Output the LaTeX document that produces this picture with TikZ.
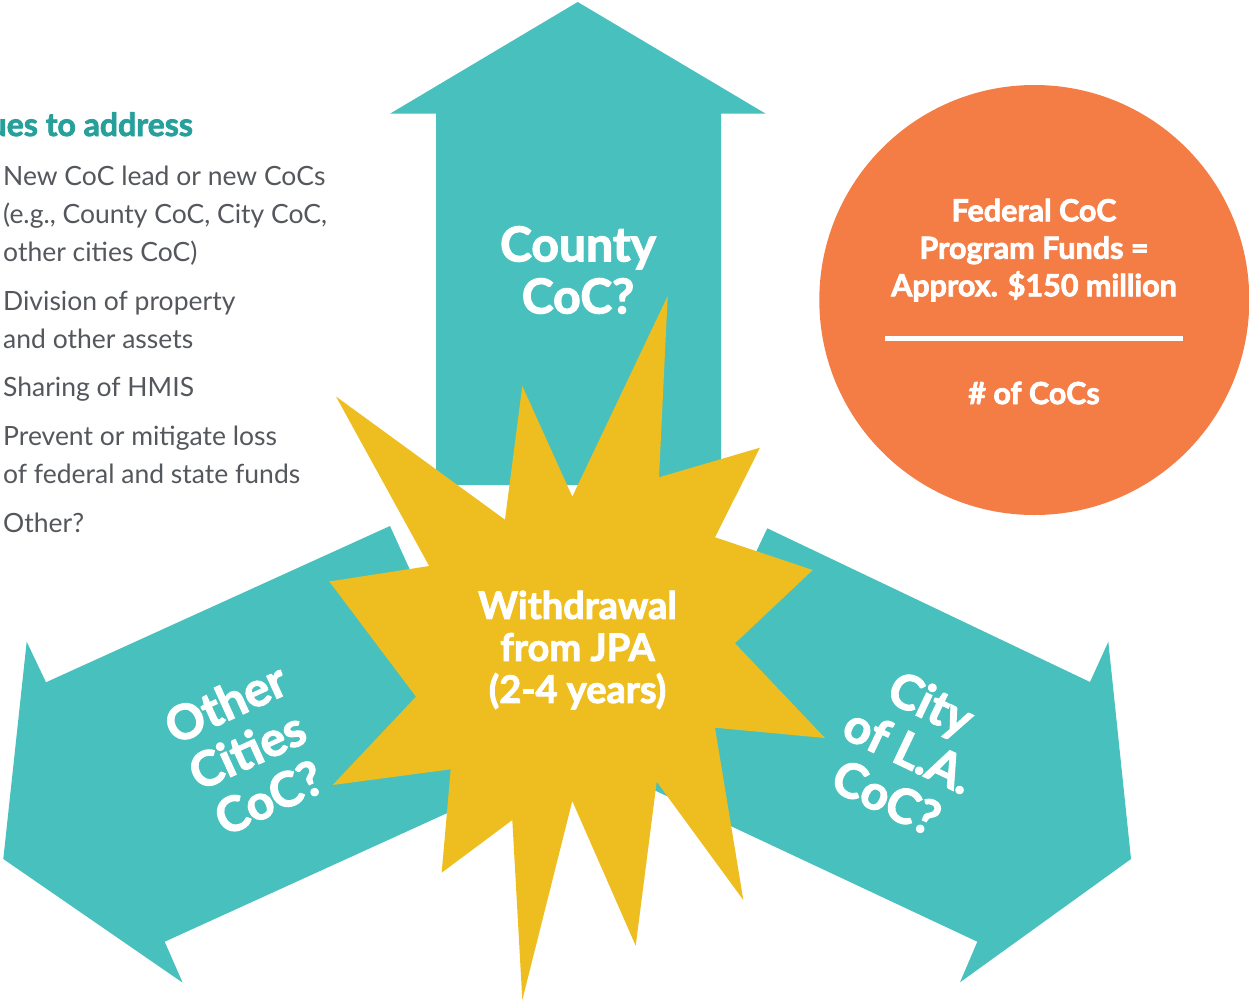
\documentclass[tikz,border=0pt]{standalone}
\usepackage{fontspec}
\setmainfont{Lato}
\newfontfamily\latoheavy{Lato}[BoldFeatures={FakeBold=2.4}]
\definecolor{arrowteal}{HTML}{48C1BE}
\definecolor{staryellow}{HTML}{EEBD1F}
\definecolor{circorange}{HTML}{F47D45}
\definecolor{headteal}{HTML}{27A09C}
\definecolor{bodygray}{HTML}{54575C}
\begin{document}
\begin{tikzpicture}[x=1pt,y=-1pt,
  arrowfill/.style={fill=arrowteal},
  bigwhite/.style={text=white, inner sep=0pt, align=center, font=\fontsize{48}{52}\selectfont\latoheavy\bfseries},
  starwhite/.style={text=white, inner sep=0pt, align=center, font=\fontsize{38}{42}\selectfont\latoheavy\bfseries},
  circwhite/.style={text=white, inner sep=0pt, align=center, font=\fontsize{30.5}{37.5}\selectfont\latoheavy\bfseries},
  bodytext/.style={text=bodygray, inner sep=0pt, align=left, anchor=base west, font=\fontsize{26.5}{38}\selectfont},
  headtext/.style={text=headteal, inner sep=0pt, anchor=base east, font=\fontsize{32}{36}\selectfont\latoheavy\bfseries}]
\useasboundingbox (0,0) rectangle (1249,1001);
\fill[white] (0,0) rectangle (1249,1001);
\clip (0,0) rectangle (1249,1001);
% arrows
\fill[arrowfill] (436,485) -- (436,113.7) -- (390,113.7) -- (577.7,2) -- (765.7,113.7) -- (721,113.7) -- (721,485) -- cycle;
\fill[arrowfill] (390,526) -- (46,682.3) -- (26.7,641.7) -- (3.3,859) -- (182.7,982.7) -- (164.7,941.7) -- (508,785.4) -- cycle;
\fill[arrowfill] (767.3,528.3) -- (1090,682) -- (1108.3,641.7) -- (1131,859) -- (960,982.3) -- (977.3,941.7) -- (644.7,785.7) -- cycle;
% star
\fill[staryellow] (667.7,296) -- (659,477.3) -- (760,447.7) -- (715,537.3) -- (812.7,570)
  -- (735,643.3) -- (825,738) -- (715,727.7) -- (743.3,900) -- (656.7,781.7)
  -- (635.7,945.7) -- (572.3,801) -- (522.3,1000) -- (512.3,820) -- (441.7,872.7)
  -- (450.7,769.3) -- (332.7,785) -- (416,696.7) -- (329.3,581.5) -- (429.2,566)
  -- (336,396.5) -- (505,519.7) -- (522.3,386) -- (572.3,496.7) -- cycle;
% circle
\fill[circorange] (1034.3,300) circle[radius=215];
\coordinate (ruleL) at (885,338.3);
\coordinate (ruleR) at (1183.3,338.3);
\draw[white, line width=5pt] (ruleL) -- (ruleR);
% texts
\node[bigwhite] (county) at (578,270) {County\\CoC?};
\node[bigwhite, rotate=24.5] (other) at (247,750) {Other\\Cities\\CoC?};
\node[bigwhite, rotate=-25.5] (city) at (909,750) {City\\of L.A.\\CoC?};
\node[starwhite] (jpa) at (577.5,650) {Withdrawal\\from JPA\\(2-4 years)};
\node[circwhite] (funds) at (1034,250) {Federal CoC\\Program Funds =\\Approx. \$150 million};
\node[circwhite] (count) at (1034,393) {\# of CoCs};
\node[headtext] (head) at (193,136) {Issues to address};
\node[bodytext] (i1) at (3,261.7) {New CoC lead or new CoCs\\(e.g., County CoC, City CoC,\\other cities CoC)};
\node[bodytext] (i2) at (3,348.3) {Division of property\\and other assets};
\node[bodytext] (i3) at (3,396) {Sharing of HMIS};
\node[bodytext] (i4) at (3,483.3) {Prevent or mitigate loss\\of federal and state funds};
\node[bodytext] (i5) at (3,532.7) {Other?};
\end{tikzpicture}
\end{document}
